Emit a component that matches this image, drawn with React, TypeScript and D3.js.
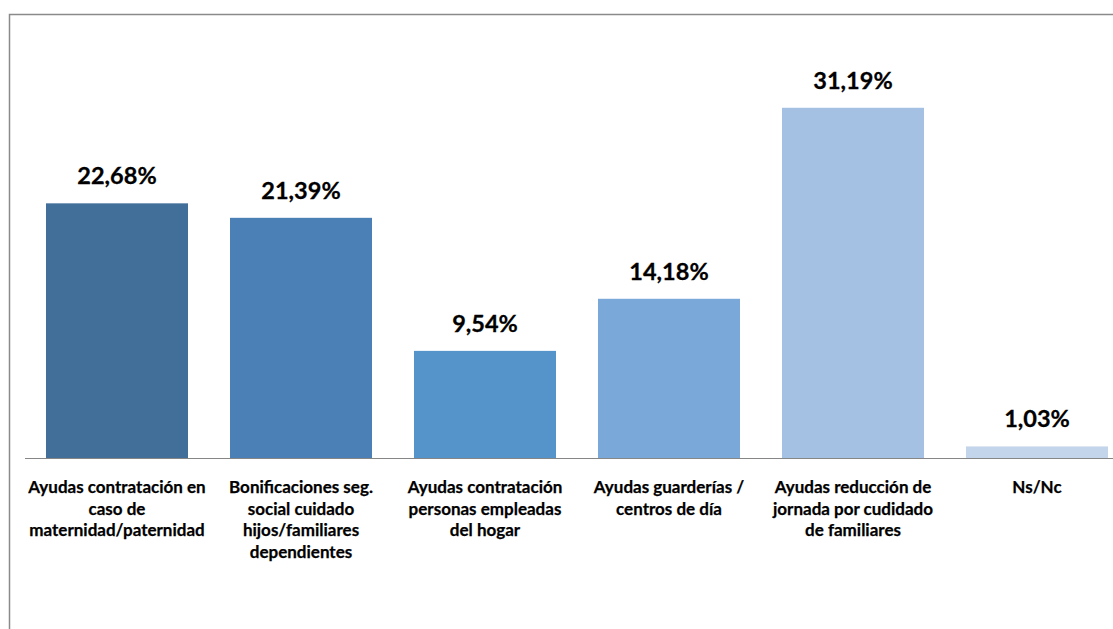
import React from "react";
import * as d3 from "d3";

const categories: string[] = [
  "Ayudas contratación en caso de maternidad/paternidad",
  "Bonificaciones seg. social cuidado hijos/familiares dependientes",
  "Ayudas contratación personas empleadas del hogar",
  "Ayudas guarderías / centros de día",
  "Ayudas reducción de jornada por cudidado de familiares",
  "Ns/Nc",
];

const categoryLines: string[][] = [
  ["Ayudas contratación en", "caso de", "maternidad/paternidad"],
  ["Bonificaciones seg.", "social cuidado", "hijos/familiares", "dependientes"],
  ["Ayudas contratación", "personas empleadas", "del hogar"],
  ["Ayudas guarderías /", "centros de día"],
  ["Ayudas reducción de", "jornada por cudidado", "de familiares"],
  ["Ns/Nc"],
];

const values: number[] = [22.68, 21.39, 9.54, 14.18, 31.19, 1.03];
const valueLabels: string[] = ["22,68%", "21,39%", "9,54%", "14,18%", "31,19%", "1,03%"];
const barColors: string[] = ["#426F9A", "#4A80B5", "#5593CB", "#7AA9D9", "#A4C1E4", "#C3D5EB"];

const W = 1113;
const H = 629;

export default function App() {
  const baseY = 458;
  const x = d3
    .scaleBand<string>()
    .domain(categories)
    .range([25, 1129])
    .paddingInner(0.2283)
    .paddingOuter(0.11415);
  const y = d3.scaleLinear().domain([0, 35]).range([baseY, 65]);
  const font = "Lato, 'Open Sans', sans-serif";

  return (
    <svg
      width={W}
      height={H}
      style={{ position: "absolute", left: 0, top: 0, display: "block", background: "#fff" }}
    >
      <rect x={9.5} y={14.5} width={1300} height={800} fill="#fff" stroke="#8a8a8a" strokeWidth={1.5} />
      {categories.map((c, i) => {
        const bx = x(c)!;
        const bw = x.bandwidth();
        const top = y(values[i]);
        return (
          <g key={c}>
            <rect x={bx} y={top} width={bw} height={baseY - top} fill={barColors[i]} />
            <text
              x={bx + bw / 2}
              y={top - 19}
              textAnchor="middle"
              fontFamily={font}
              fontWeight="bold"
              fontSize={23.5}
              fill="#000"
              stroke="#000"
              strokeWidth={0.3}
            >
              {valueLabels[i]}
            </text>
            {categoryLines[i].map((ln, j) => (
              <text
                key={j}
                x={bx + bw / 2}
                y={493 + j * 21.7}
                textAnchor="middle"
                fontFamily={font}
                fontWeight="bold"
                fontSize={17}
                fill="#000"
                stroke="#000"
                strokeWidth={0.25}
              >
                {ln}
              </text>
            ))}
          </g>
        );
      })}
      <line x1={25} x2={W} y1={baseY + 0.5} y2={baseY + 0.5} stroke="#868686" strokeWidth={1.2} />
    </svg>
  );
}
